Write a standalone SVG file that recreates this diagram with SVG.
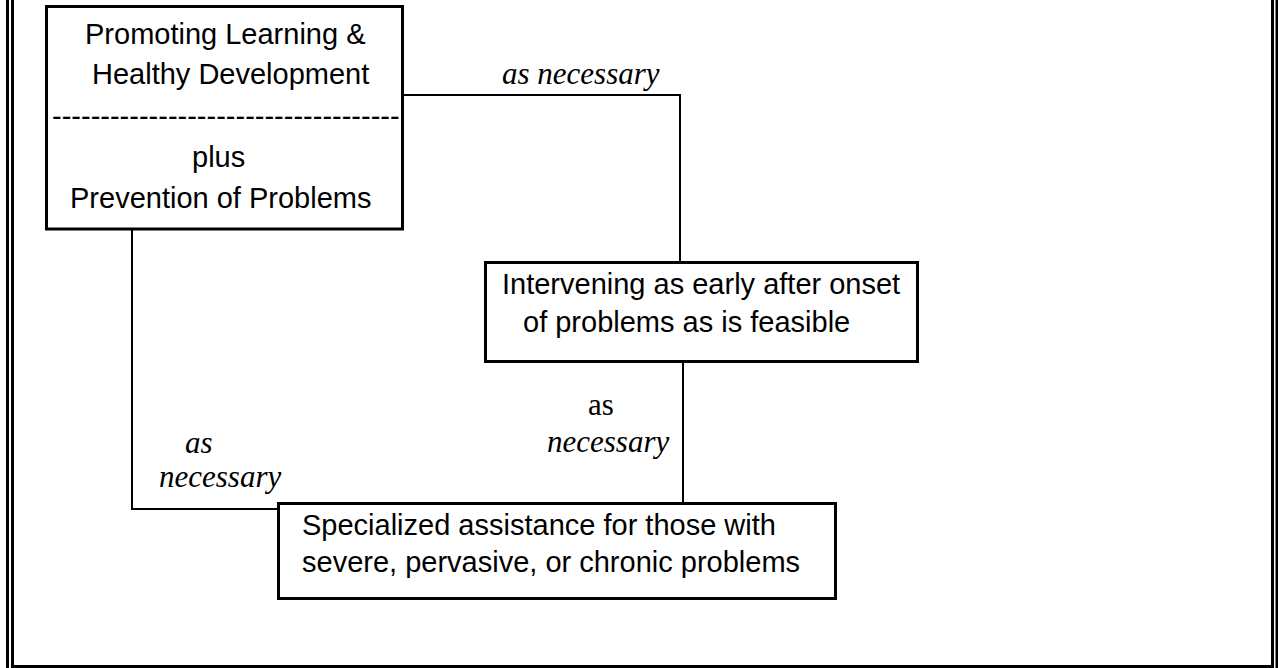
<svg xmlns="http://www.w3.org/2000/svg" width="1278" height="668" viewBox="0 0 1278 668">
  <style>
    .box { fill: #fff; stroke: #000; stroke-width: 3; }
    .conn { fill: none; stroke: #000; stroke-width: 2; }
    .frame { fill: none; stroke: #000; stroke-width: 3; }
    .t { font-family: "Liberation Sans", Arial, sans-serif; font-size: 29px; fill: #000; }
    .lbl { font-family: "Liberation Serif", "Times New Roman", serif; font-size: 31px; fill: #000; }
    .it { font-style: italic; }
  </style>
  <rect width="1278" height="668" fill="#fff"/>

  <!-- double page frame -->
  <g id="frame">
    <line class="frame" x1="7.5" y1="0" x2="7.5" y2="668"/>
    <line class="frame" x1="12.5" y1="0" x2="12.5" y2="666.5"/>
    <line class="frame" x1="11" y1="666.5" x2="1274" y2="666.5"/>
    <line class="frame" x1="1272.5" y1="0" x2="1272.5" y2="668"/>
    <line class="frame" x1="1277" y1="0" x2="1277" y2="668" stroke-width="2"/>
  </g>

  <!-- connectors and their labels -->
  <g id="connectors">
    <polyline class="conn" points="404,95 680,95 680,262"/>
    <line class="conn" x1="683" y1="362" x2="683" y2="503"/>
    <polyline class="conn" points="132,230 132,509 278,509"/>
    <text class="lbl it" x="502" y="84">as necessary</text>
    <text class="lbl" x="588" y="415">as</text>
    <text class="lbl it" x="547" y="452">necessary</text>
    <text class="lbl it" x="185" y="453">as</text>
    <text class="lbl it" x="159" y="487">necessary</text>
  </g>

  <g id="promotion">
    <rect class="box" x="46.5" y="6.5" width="356" height="222.5"/>
    <text class="t" x="85" y="44">Promoting Learning &amp;</text>
    <text class="t" x="92" y="84">Healthy Development</text>
    <text class="t" x="52" y="126">------------------------------------</text>
    <text class="t" x="192" y="167">plus</text>
    <text class="t" x="70" y="208">Prevention of Problems</text>
  </g>

  <g id="early-intervention">
    <rect class="box" x="485.5" y="262.5" width="432" height="99"/>
    <text class="t" x="502" y="294">Intervening as early after onset</text>
    <text class="t" x="523" y="332">of problems as is feasible</text>
  </g>

  <g id="specialized-assistance">
    <rect class="box" x="278.5" y="503.5" width="557" height="95"/>
    <text class="t" x="302" y="535">Specialized assistance for those with</text>
    <text class="t" x="302" y="572">severe, pervasive, or chronic problems</text>
  </g>
</svg>
